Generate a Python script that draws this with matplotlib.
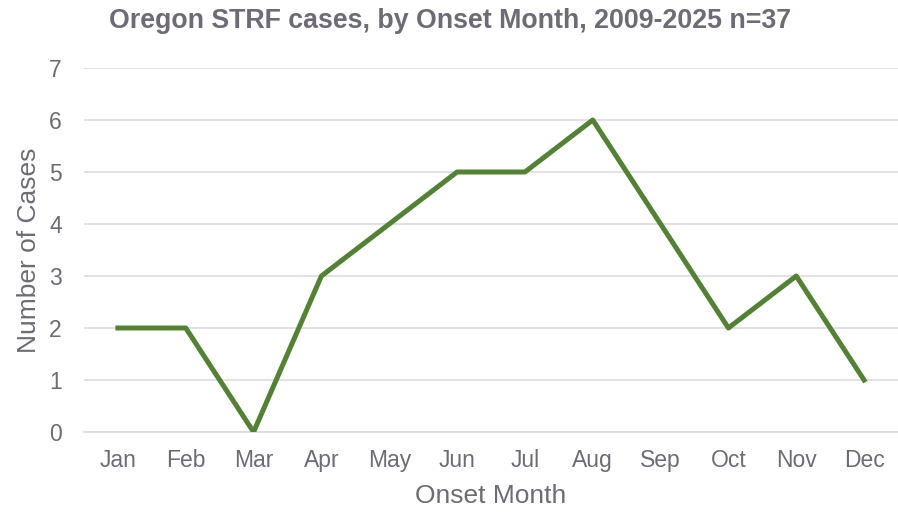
import matplotlib
matplotlib.use("Agg")
import matplotlib.pyplot as plt

months = ["Jan", "Feb", "Mar", "Apr", "May", "Jun", "Jul", "Aug", "Sep", "Oct", "Nov", "Dec"]
cases = [2, 2, 0, 3, 4, 5, 5, 6, 4, 2, 3, 1]
title = "Oregon STRF cases, by Onset Month, 2009-2025 n=37"

plt.rcParams['font.family'] = ['Liberation Sans', 'DejaVu Sans']
txt = "#6f6b76"

fig = plt.figure(figsize=(8.98, 5.12), dpi=100)
ax = fig.add_axes([84/898, 1-432/512, (898-84)/898, (432-68)/512])

x = list(range(len(months)))
ax.plot(x, cases, color="#548235", linewidth=3.6, solid_joinstyle="round", zorder=3)

ax.set_xlim(-0.5, 11.5)
ax.set_ylim(0, 7)
ax.set_yticks(range(0, 8))
ax.set_xticks(x)
ax.set_xticklabels(months)
ax.yaxis.grid(True, color="#dcdbe0", linewidth=1.2)
ax.set_axisbelow(True)
for s in ["top", "right", "left"]:
    ax.spines[s].set_visible(False)
ax.spines["bottom"].set_color("#dcdbe0")
ax.spines["bottom"].set_linewidth(1.2)
ax.tick_params(axis="both", length=0, labelsize=16.5, colors=txt)
ax.tick_params(axis="x", pad=12)
ax.tick_params(axis="y", pad=16)

ax.set_xlabel("Onset Month", fontsize=19, color=txt, labelpad=9)
ax.set_ylabel("Number of Cases", fontsize=19, color=txt, labelpad=6)
fig.text(450/898, 1-21/512, title, ha="center", va="center", fontsize=19.3,
         fontweight="bold", color=txt)

fig.savefig("out.png", dpi=100)
